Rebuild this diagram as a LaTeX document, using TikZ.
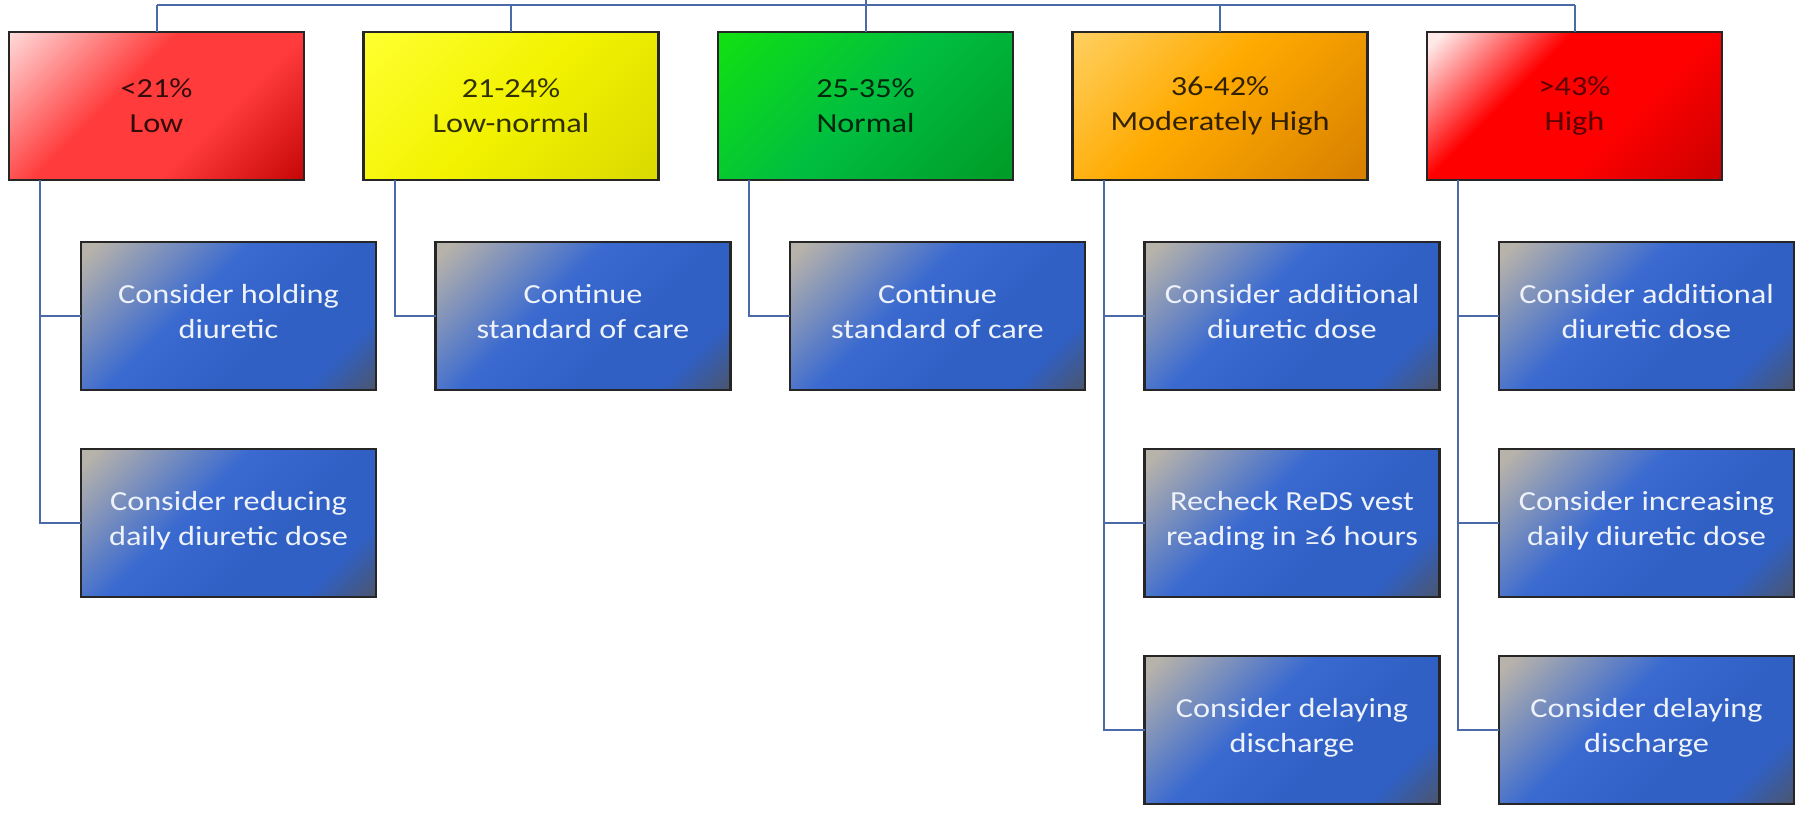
\documentclass[tikz,border=0pt]{standalone}
\usepackage{fontspec}
\setmainfont{Carlito}[FakeStretch=1.17]
\usetikzlibrary{positioning}

\definecolor{linkblue}{HTML}{4A6BA8}
\definecolor{actwhite}{HTML}{EEF2FA}
\definecolor{lowA}{HTML}{FFD8D8}
\definecolor{lowB}{HTML}{FF3B3B}
\definecolor{lowC}{HTML}{C40404}
\definecolor{lnA}{HTML}{FFFF30}
\definecolor{lnB}{HTML}{F2F200}
\definecolor{lnC}{HTML}{DAD800}
\definecolor{normA}{HTML}{12E012}
\definecolor{normB}{HTML}{00BE40}
\definecolor{normC}{HTML}{009A26}
\definecolor{mhA}{HTML}{FFD060}
\definecolor{mhB}{HTML}{FFAA00}
\definecolor{mhC}{HTML}{D67E00}
\definecolor{highA}{HTML}{FFEAEA}
\definecolor{highB}{HTML}{FF0000}
\definecolor{highC}{HTML}{C80000}
\definecolor{actA}{HTML}{B8B3AA}
\definecolor{actB}{HTML}{3A6AD0}
\definecolor{actC}{HTML}{3060C4}
\definecolor{actD}{HTML}{4E5462}

\pgfdeclarehorizontalshading{lowshade}{100bp}{color(0bp)=(lowA); color(15bp)=(lowA); color(42bp)=(lowB); color(62bp)=(lowB); color(86bp)=(lowC); color(100bp)=(lowC)}
\pgfdeclarehorizontalshading{lnshade}{100bp}{color(0bp)=(lnA); color(15bp)=(lnA); color(50bp)=(lnB); color(86bp)=(lnC); color(100bp)=(lnC)}
\pgfdeclarehorizontalshading{normshade}{100bp}{color(0bp)=(normA); color(15bp)=(normA); color(50bp)=(normB); color(86bp)=(normC); color(100bp)=(normC)}
\pgfdeclarehorizontalshading{mhshade}{100bp}{color(0bp)=(mhA); color(15bp)=(mhA); color(45bp)=(mhB); color(86bp)=(mhC); color(100bp)=(mhC)}
\pgfdeclarehorizontalshading{highshade}{100bp}{color(0bp)=(highA); color(17bp)=(highA); color(38bp)=(highB); color(60bp)=(highB); color(86bp)=(highC); color(100bp)=(highC)}
\pgfdeclarehorizontalshading{actshade}{100bp}{color(0bp)=(actA); color(17bp)=(actA); color(42bp)=(actB); color(60bp)=(actC); color(74bp)=(actC); color(87bp)=(actD); color(100bp)=(actD)}

\tikzset{
  level/.style={draw=black!85, line width=1.1pt, outer sep=0pt, shade, shading angle=-45,
    minimum width=147.5pt, minimum height=74pt, align=center,
    text=black, text opacity=0.8, font=\fontsize{13.8}{17.5}\selectfont},
  action/.style={level, shading=actshade, shading angle=-45, text depth=4.5pt,
    text=actwhite, text opacity=1},
  link/.style={draw=linkblue, line width=1pt}
}

\begin{document}
\begin{tikzpicture}[node distance=29.5pt]
\useasboundingbox (0,0) rectangle (899pt,-406.5pt);

\node[level, shading=lowshade, shading angle=-45, anchor=north west] (low) at (4.5pt,-16pt) {<21\%\\Low};
\node[level, shading=lnshade, shading angle=-45, right=29.75pt of low] (lownorm) {21-24\%\\Low-normal};
\node[level, shading=normshade, shading angle=-45, right=29.75pt of lownorm] (normal) {25-35\%\\Normal};
\node[level, shading=mhshade, shading angle=-45, right=29.75pt of normal] (modhigh) {36-42\%\\Moderately High};
\node[level, shading=highshade, shading angle=-45, text opacity=0.65, right=29.75pt of modhigh] (high) {>43\%\\High};

\node[action, below right=31pt and 36pt of low.south west] (low1) {Consider holding\\diuretic};
\node[action, below=of low1] (low2) {Consider reducing\\daily diuretic dose};
\node[action, below right=31pt and 36pt of lownorm.south west] (lownorm1) {Continue\\standard of care};
\node[action, below right=31pt and 36pt of normal.south west] (normal1) {Continue\\standard of care};
\node[action, below right=31pt and 36pt of modhigh.south west] (modhigh1) {Consider additional\\diuretic dose};
\node[action, below=of modhigh1] (modhigh2) {Recheck ReDS vest\\reading in ≥6 hours};
\node[action, below=of modhigh2] (modhigh3) {Consider delaying\\discharge};
\node[action, below right=31pt and 36pt of high.south west] (high1) {Consider additional\\diuretic dose};
\node[action, below=of high1] (high2) {Consider increasing\\daily diuretic dose};
\node[action, below=of high2] (high3) {Consider delaying\\discharge};

\coordinate (bus) at (0,-2.5pt);
\coordinate (root) at (normal.north |- 0,0);
\draw[link] (normal.north) -- (root);
\draw[link] (low.north |- bus) -- (high.north |- bus);
\foreach \p in {low,lownorm,modhigh,high}
  \draw[link] (\p.north) -- (\p.north |- bus);

\foreach \p/\c in {low/low1,low/low2,lownorm/lownorm1,normal/normal1,
    modhigh/modhigh1,modhigh/modhigh2,modhigh/modhigh3,high/high1,high/high2,high/high3}
  \draw[link] ([xshift=15.5pt]\p.south west) |- (\c.west);

\end{tikzpicture}
\end{document}
